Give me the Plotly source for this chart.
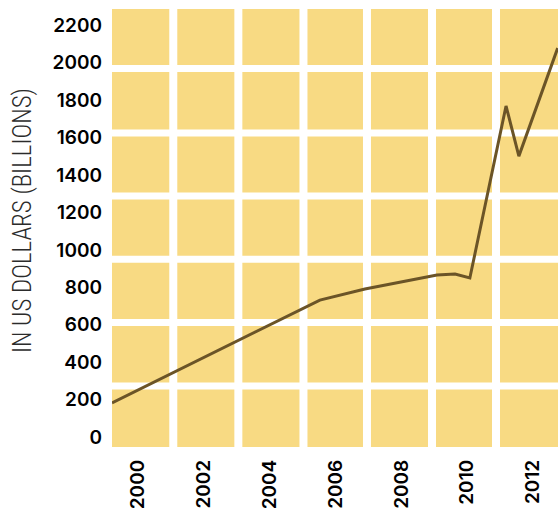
import plotly.graph_objects as go

# Data
years = [1999.2, 2005.52, 2006.89, 2009.08, 2009.63, 2010.08, 2011.18, 2011.57, 2012.75]
values = [182, 732, 791, 866, 871, 850, 1769, 1501, 2078]

x_ticks = [2000, 2002, 2004, 2006, 2008, 2010, 2012]
y_ticks = [0, 200, 400, 600, 800, 1000, 1200, 1400, 1600, 1800, 2000, 2200]
y_title = "IN US DOLLARS (BILLIONS)"

TILE = "#F8DA83"
LINE = "#6B5427"

fig = go.Figure()
fig.add_trace(go.Scatter(x=years, y=values, mode="lines",
                         line=dict(color=LINE, width=3), hoverinfo="skip"))

# decorative white grid gaps (paper coords)
vgaps = [0.1374, 0.2833, 0.4293, 0.5717, 0.7175, 0.8610]
hgaps = [0.1393, 0.2845, 0.4284, 0.5731, 0.7169, 0.8642]
shapes = []
for gx in vgaps:
    shapes.append(dict(type="line", xref="paper", yref="paper", x0=gx, x1=gx, y0=0, y1=1,
                       line=dict(color="white", width=8), layer="below"))
for gy in hgaps:
    shapes.append(dict(type="line", xref="paper", yref="paper", x0=0, x1=1, y0=gy, y1=gy,
                       line=dict(color="white", width=7), layer="below"))

tick_font = dict(family="Inter", size=19, color="black", weight=600)

fig.update_layout(
    width=558, height=508,
    margin=dict(l=112, r=0, t=9, b=61),
    paper_bgcolor="white", plot_bgcolor=TILE,
    showlegend=False,
    shapes=shapes,
    annotations=[dict(xref="paper", yref="paper", x=-0.202, y=0.518, xanchor="center", yanchor="middle",
                      textangle=-90, showarrow=False, text=y_title,
                      font=dict(family="Roboto Condensed", size=25, weight=300, color="#2b2b2b"))],
    xaxis=dict(range=[1999.2, 2012.76], tickvals=x_ticks, ticktext=[str(t) for t in x_ticks],
               tickangle=-90, showgrid=False, zeroline=False, showline=False, ticks="",
               tickfont=tick_font, ticklabelstandoff=8, fixedrange=True),
    yaxis=dict(range=[-53, 2287], tickvals=y_ticks, ticktext=[str(t) for t in y_ticks],
               showgrid=False, zeroline=False, showline=False, ticks="",
               tickfont=tick_font, ticklabelstandoff=9, fixedrange=True),
)

fig.write_html("out.html", config={"displayModeBar": False},
               post_script="document.body.style.margin='0';document.body.style.overflow='hidden';")
